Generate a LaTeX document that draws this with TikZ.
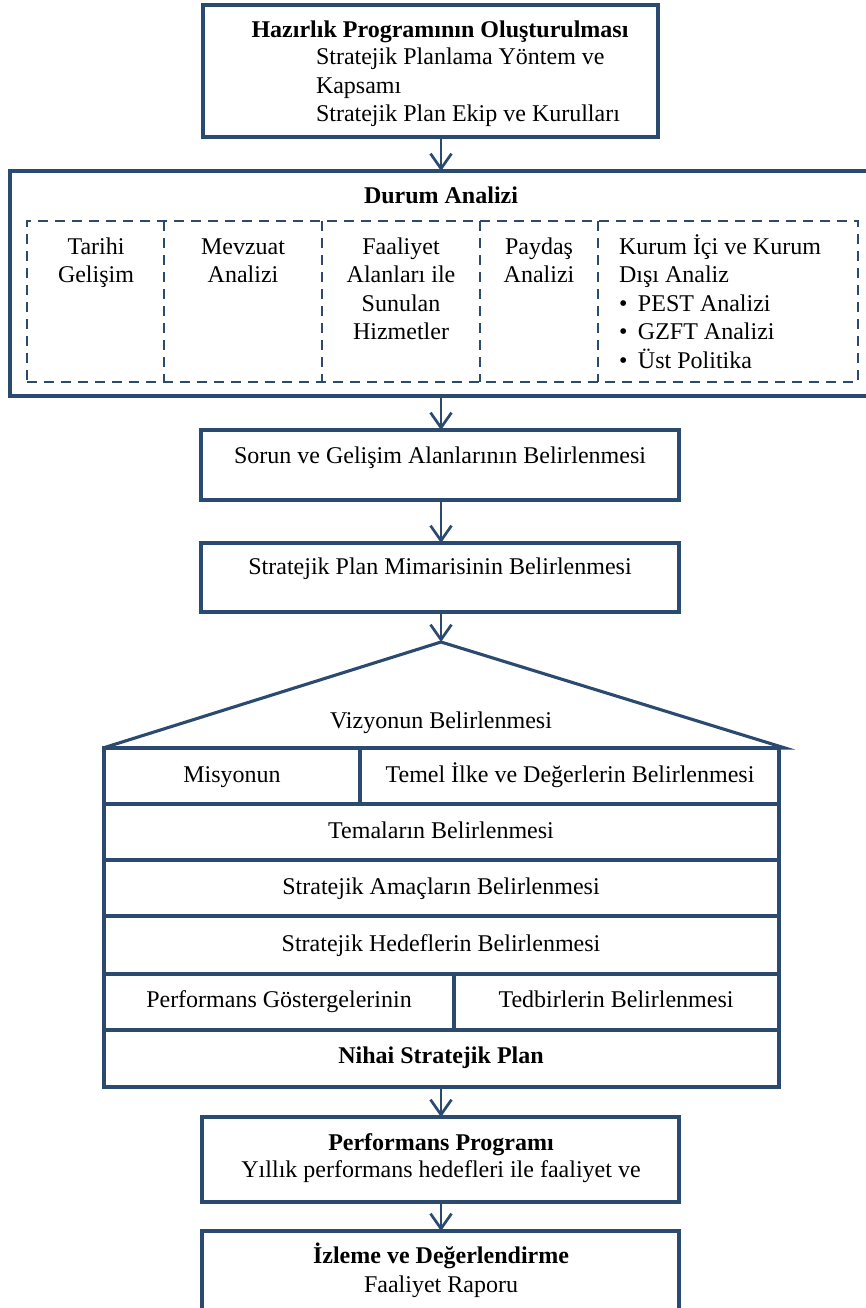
\documentclass[tikz,border=0pt]{standalone}
\usepackage{fontspec}
\setmainfont{Liberation Serif}
\usetikzlibrary{arrows.meta}
\definecolor{ln}{HTML}{2A4A70}
\newcommand{\tabT}[2]{\begin{tabular}[t]{@{}#1@{}}#2\end{tabular}}
\begin{document}
\begin{tikzpicture}[x=1pt,y=-1pt,
  every node/.style={font=\fontsize{24}{28.5}\selectfont, inner sep=0pt, outer sep=0pt},
  frame/.style={draw=ln, line width=3.1pt, anchor=north west},
  dbox/.style={draw=ln, line width=2.6pt, dash pattern=on 10pt off 7pt},
  arr/.style={draw=ln, line width=2.7pt, -{Straight Barb[length=15pt,width=21pt]}},
  lbl/.style={anchor=base},
  blbl/.style={anchor=base, font=\fontsize{24}{28.5}\selectfont\bfseries},
  llbl/.style={anchor=base west}
]
\useasboundingbox (0,0) rectangle (866,1308);
\clip (0,0) rectangle (866,1308);
\fill[white] (0,0) rectangle (866,1308);
\coordinate (ax) at (441,0);

% boxes
\node[frame, minimum width=455pt, minimum height=132pt] (hz) at (203,5) {};
\node[frame, minimum width=880pt, minimum height=225pt] (dur) at (10,171) {};
\node[dbox, anchor=north west, minimum width=831pt, minimum height=161pt] (durin) at (27,221) {};
\node[frame, minimum width=478pt, minimum height=70pt] (sor) at (201,430) {};
\node[frame, minimum width=478pt, minimum height=69pt] (mim) at (201,543) {};
\node[frame, minimum width=256pt, minimum height=56pt] (r1a) at (104,748) {};
\node[frame, minimum width=419pt, minimum height=56pt] (r1b) at (360,748) {};
\node[frame, minimum width=675pt, minimum height=56pt] (r2) at (104,804) {};
\node[frame, minimum width=675pt, minimum height=56pt] (r3) at (104,860) {};
\node[frame, minimum width=675pt, minimum height=58pt] (r4) at (104,916) {};
\node[frame, minimum width=350pt, minimum height=56pt] (r5a) at (104,974) {};
\node[frame, minimum width=325pt, minimum height=56pt] (r5b) at (454,974) {};
\node[frame, minimum width=675pt, minimum height=57pt] (r6) at (104,1030) {};
\node[frame, minimum width=477pt, minimum height=85pt] (perf) at (202,1117) {};
\node[frame, minimum width=477pt, minimum height=110pt] (izl) at (202,1231) {};

% dashed dividers
\foreach \xx in {164,322,480,598}
  \draw[dbox] (\xx,221) -- (\xx,382);

% roof
\coordinate (apex) at (441,642);
\coordinate (rl) at (103,748);
\coordinate (rr) at (785,748);
\draw[draw=ln, line width=3.1pt, line join=miter] (rl) -- (apex) -- (rr) -- (rl);

% texts
\node[blbl] (t0) at (440,38) {Hazırlık Programının Oluşturulması};
\node[llbl] (t0b) at (316,65) {\tabT{l}{Stratejik Planlama Yöntem ve\\Kapsamı\\Stratejik Plan Ekip ve Kurulları}};
\node[blbl] (td) at (441,204) {Durum Analizi};
\node[lbl] (c1) at (96,254) {\tabT{c}{Tarihi\\Gelişim}};
\node[lbl] (c2) at (243,254) {\tabT{c}{Mevzuat\\Analizi}};
\node[lbl] (c3) at (401,254) {\tabT{c}{Faaliyet\\Alanları ile\\Sunulan\\Hizmetler}};
\node[lbl] (c4) at (539,254) {\tabT{c}{Paydaş\\Analizi}};
\node[llbl] (c5) at (619,254) {\tabT{l}{Kurum İçi ve Kurum\\Dışı Analiz\\\makebox[19pt][l]{•}PEST Analizi\\\makebox[19pt][l]{•}GZFT Analizi\\\makebox[19pt][l]{•}Üst Politika}};
\node[lbl] (ts) at (440,463) {Sorun ve Gelişim Alanlarının Belirlenmesi};
\node[lbl] (tm) at (440,574) {Stratejik Plan Mimarisinin Belirlenmesi};
\node[lbl] (tv) at (441,728) {Vizyonun Belirlenmesi};
\node[lbl] (tr1a) at (232,782) {Misyonun};
\node[lbl] (tr1b) at (570,782) {Temel İlke ve Değerlerin Belirlenmesi};
\node[lbl] (tr2) at (441,838) {Temaların Belirlenmesi};
\node[lbl] (tr3) at (441,894) {Stratejik Amaçların Belirlenmesi};
\node[lbl] (tr4) at (441,951) {Stratejik Hedeflerin Belirlenmesi};
\node[lbl] (tr5a) at (279,1007) {Performans Göstergelerinin};
\node[lbl] (tr5b) at (616,1007) {Tedbirlerin Belirlenmesi};
\node[blbl] (tr6) at (441,1063) {Nihai Stratejik Plan};
\node[blbl] (tp) at (441,1150) {Performans Programı};
\node[lbl] (tpb) at (441,1177) {Yıllık performans hedefleri ile faaliyet ve};
\node[blbl] (ti) at (441,1263) {İzleme ve Değerlendirme};
\node[lbl] (tib) at (441,1292) {Faaliyet Raporu};

% arrows
\draw[arr] (ax |- hz.south) -- (ax |- dur.north);
\draw[arr] (ax |- dur.south) -- (ax |- sor.north);
\draw[arr] (ax |- sor.south) -- (ax |- mim.north);
\draw[arr] (ax |- mim.south) -- (apex);
\draw[arr] (ax |- r6.south) -- (ax |- perf.north);
\draw[arr] (ax |- perf.south) -- (ax |- izl.north);
\end{tikzpicture}
\end{document}
